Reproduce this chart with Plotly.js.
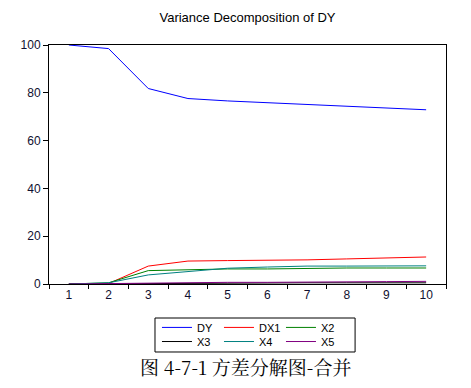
<!DOCTYPE html>
<html>
<head>
<meta charset="utf-8">
<script src="https://cdn.plot.ly/plotly-3.0.1.min.js"></script>
<style>html,body{margin:0;padding:0;background:#fff;}#chart{width:471px;height:388px;}</style>
</head>
<body>
<div id="chart"></div>
<script>
var periods = ["1","2","3","4","5","6","7","8","9","10"];
var DY  = [100, 98.5, 81.8, 77.6, 76.6, 75.9, 75.0, 74.2, 73.6, 72.9];
var DX1 = [0, 0.2, 7.5, 9.6, 9.8, 9.8, 10.1, 10.5, 10.9, 11.3];
var X2  = [0, 0.5, 5.6, 6.1, 6.3, 6.3, 6.6, 6.7, 6.7, 6.7];
var X3  = [0, 0.1, 0.4, 0.5, 0.5, 0.5, 0.5, 0.5, 0.5, 0.5];
var X4  = [0, 0.5, 3.8, 5.3, 6.6, 7.1, 7.5, 7.5, 7.5, 7.6];
var X5  = [0, 0.2, 0.6, 0.7, 0.7, 0.7, 0.7, 1.0, 1.0, 1.1];
var seriesNames = ["DY","DX1","X2","X3","X4","X5"];
var seriesData = [DY, DX1, X2, X3, X4, X5];
var seriesColors = ["#0000FF","#FF0000","#008000","#000000","#008080","#800080"];
var legendRow = ["legend","legend","legend","legend2","legend2","legend2"];
var yTicks = [0, 20, 40, 60, 80, 100];

var traces = seriesNames.map(function(n, i){
  return {x: periods, y: seriesData[i], name: n, type: "scatter", mode: "lines",
          legend: legendRow[i], line: {color: seriesColors[i], width: 1}};
});

function legendCfg(ytop){
  return {orientation: "h", x: 0.272, xanchor: "left", y: ytop, yanchor: "top",
          borderwidth: 0, bgcolor: "rgba(0,0,0,0)",
          font: {size: 11, color: "#000"}, entrywidth: 17, entrywidthmode: "pixels",
          itemwidth: 30, tracegroupgap: 0, traceorder: "normal"};
}

var layout = {
  width: 471, height: 388,
  margin: {l: 49, r: 25, t: 45, b: 104},
  paper_bgcolor: "#fff", plot_bgcolor: "#fff",
  font: {family: "Liberation Sans, Arial, sans-serif", size: 12, color: "#000"},
  title: {text: "Variance Decomposition of DY", font: {size: 13, color: "#000"},
          x: 0.5, xref: "paper", xanchor: "center", y: 0.954, yref: "container", yanchor: "middle"},
  xaxis: {type: "category", range: [-0.5, 9.5], tickson: "boundaries", ticks: "outside", ticklen: 4,
          tickcolor: "#000", showline: true, linecolor: "#000", linewidth: 1, mirror: true,
          showgrid: false, zeroline: false, tickfont: {size: 12, color: "#101030"}, fixedrange: true},
  yaxis: {range: [0, 100], tickvals: yTicks, ticks: "outside", ticklen: 5, tickcolor: "#000",
          showline: true, linecolor: "#000", linewidth: 1, mirror: true, showgrid: false,
          zeroline: false, tickfont: {size: 12, color: "#101030"}, fixedrange: true},
  showlegend: true,
  legend: legendCfg(-0.121),
  legend2: legendCfg(-0.180),
  shapes: [{type: "rect", xref: "paper", yref: "paper", x0: 0.267, x1: 0.771, y0: -0.2845, y1: -0.1423,
            line: {color: "#000", width: 1}, fillcolor: "rgba(0,0,0,0)"}],
  annotations: [{text: "图 4-7-1 方差分解图-合并", xref: "paper", yref: "paper",
                 x: 0.495, y: -0.345, xanchor: "center", yanchor: "middle", showarrow: false,
                 font: {family: "Noto Serif CJK SC, Noto Sans CJK SC, serif", size: 19, color: "#000"}}]
};

Plotly.newPlot("chart", traces, layout, {displayModeBar: false, staticPlot: true});
</script>
</body>
</html>
